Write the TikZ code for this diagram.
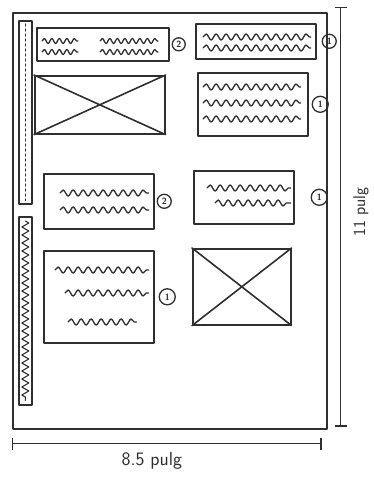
\documentclass[tikz,border=0pt]{standalone}
\usepackage{xcolor}
\usepackage{tikz}
\usetikzlibrary{arrows.meta,positioning,calc,decorations.pathmorphing}
\definecolor{pencil}{HTML}{2F2F2F}
\tikzset{
  sketch/.style={draw=pencil, line width=1.6pt, line cap=round, line join=round},
  pagebox/.style={rectangle, sketch, anchor=north west, inner sep=0pt},
  textbox/.style={rectangle, sketch, anchor=north west, inner sep=0pt},
  imagebox/.style={rectangle, sketch, anchor=north west, inner sep=0pt},
  stripbox/.style={rectangle, sketch, anchor=north west, inner sep=0pt,
    minimum width=13pt},
  numcirc/.style={circle, sketch, line width=1.3pt, inner sep=0pt,
    minimum size=#1, font=\sffamily\small\bfseries, text=pencil},
  numcirc/.default=14pt,
  wave/.style={sketch, line width=1.3pt,
    decorate, decoration={snake, segment length=10pt, amplitude=3pt}},
  smallwave/.style={sketch, line width=1.3pt,
    decorate, decoration={snake, segment length=7.5pt, amplitude=2.5pt}},
  dimline/.style={sketch, line width=1.4pt, {Bar[width=12pt]}-{Bar[width=12pt]}},
  dimlabel/.style={font=\sffamily\fontsize{#1}{#1}\selectfont, text=pencil},
  dimlabel/.default=19pt,
}
\begin{document}
\begin{tikzpicture}[x=1pt, y=-1pt]
  \useasboundingbox (0,0) rectangle (373,484);

  % Page outline
  \node[pagebox, minimum width=314pt, minimum height=416pt] (page) at (12,12) {};

  % Side strips
  \node[stripbox, minimum height=183pt] (barA) at (18,20) {};
  \node[stripbox, minimum height=188pt] (barB) at (18,216) {};
  \draw[sketch, line width=1.2pt, dash pattern=on 2pt off 3pt]
    ($(barA.north)+(0,4)$) -- ($(barA.south)+(0,-4)$);
  \draw[sketch, line width=1.1pt, decorate,
        decoration={zigzag, segment length=8pt, amplitude=3.5pt}]
    ($(barB.north)+(0,5)$) -- ($(barB.south)+(0,-5)$);

  % Left column
  \node[textbox, minimum width=132pt, minimum height=33pt] (txtA) at (36,27) {};
  \node[imagebox, minimum width=130pt, minimum height=58pt] (imgA) at (34,75) {};
  \node[textbox, minimum width=110pt, minimum height=55pt] (txtD) at (43,173) {};
  \node[textbox, minimum width=110pt, minimum height=92pt] (txtE) at (43,250) {};

  % Right column
  \node[textbox, minimum width=120pt, minimum height=35pt] (txtB) at (195,23) {};
  \node[textbox, minimum width=110pt, minimum height=63pt] (txtC) at (197,72) {};
  \node[textbox, minimum width=100pt, minimum height=53pt] (txtG) at (193,170) {};
  \node[imagebox, minimum width=98pt, minimum height=76pt] (imgB) at (192,248) {};

  % Image placeholders
  \foreach \im in {imgA,imgB} {
    \draw[sketch] (\im.north west) -- (\im.south east)
                  (\im.south west) -- (\im.north east);
  }

  % Text lines
  \draw[smallwave] ($(txtA.north west)+(6,14)$) -- ++(36,0);
  \draw[smallwave] ($(txtA.north west)+(6,25)$) -- ++(36,0);
  \draw[smallwave] ($(txtA.north west)+(64,14)$) -- ++(58,0);
  \draw[smallwave] ($(txtA.north west)+(64,25)$) -- ++(58,0);
  \foreach \b/\dy/\dl/\dr in {txtB/14/8/6, txtB/25/8/6,
      txtC/15/6/8, txtC/31/6/8, txtC/47/6/8,
      txtD/20/17/6, txtD/37/17/6,
      txtE/20/12/6, txtE/43/22/6, txtE/72/25/18,
      txtG/18/14/4, txtG/33/22/4} {
    \draw[wave] ($(\b.north west)+(\dl,\dy)$) -- ($(\b.north east)+(-\dr,\dy)$);
  }

  % Numbered marks
  \node[numcirc=13pt, right=2pt of txtA] (nA) {2};
  \node[numcirc, right=5pt of txtB] (nB) {1};
  \node[numcirc=16pt, right=3pt of txtC] (nC) {1};
  \node[numcirc, right=2pt of txtD] (nD) {2};
  \node[numcirc=16pt, right=4pt of txtE] (nE) {1};
  \node[numcirc=16pt, right=16pt of txtG] (nG) {1};

  % Dimensions
  \coordinate (wL) at ($(page.south west)+(0,14)$);
  \coordinate (wR) at ($(page.south east)+(-6,14)$);
  \draw[dimline] (wL) -- node[dimlabel, below=5pt, xshift=-15pt] (wlab) {8.5 pulg} (wR);

  \coordinate (hT) at ($(page.north east)+(13,-5)$);
  \coordinate (hB) at ($(page.south east)+(13,-3)$);
  \draw[dimline] (hT) -- (hB);
  \node[dimlabel=17pt, rotate=90] (hlab) at (361,212) {11 pulg};
\end{tikzpicture}
\end{document}
